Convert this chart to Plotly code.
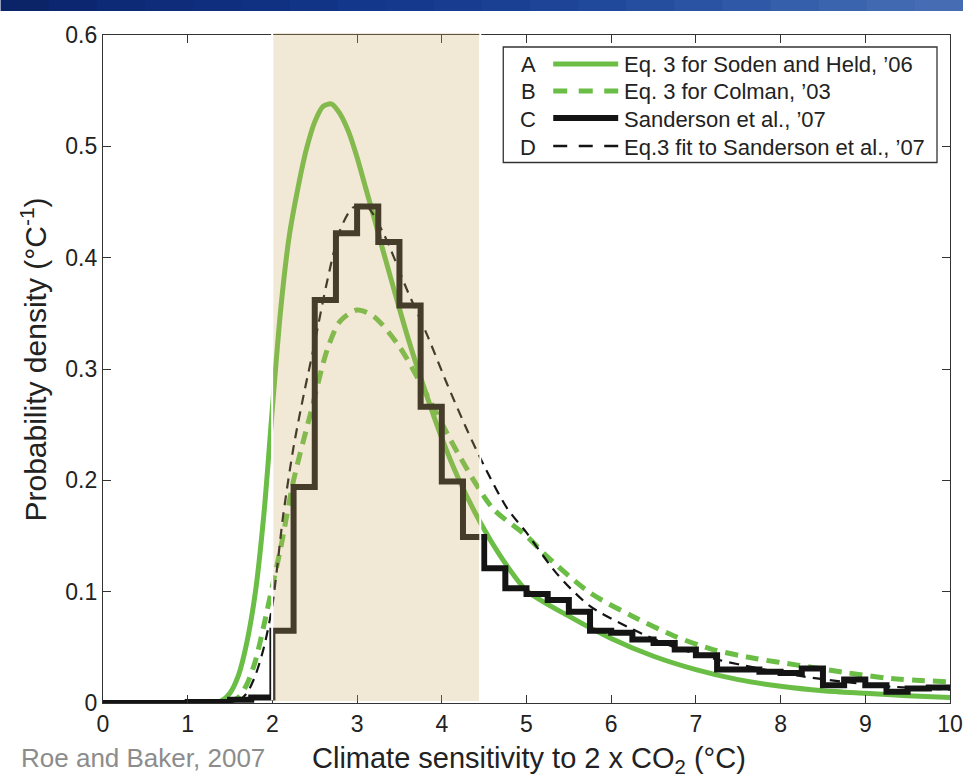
import plotly.graph_objects as go

# ---------------------------------------------------------------------------
# Probability densities of climate sensitivity (Roe and Baker, 2007)
# ---------------------------------------------------------------------------

# Eq. 3 for Soden and Held, '06  (solid green)
SH_X = [0.0, 1.3, 1.4, 1.5, 1.6, 1.7, 1.8, 1.9, 2.0, 2.1, 2.2, 2.3, 2.4, 2.5,
        2.6, 2.7, 2.8, 2.9, 3.0, 3.1, 3.2, 3.3, 3.4, 3.6, 3.8, 4.0, 4.2, 4.4,
        4.6, 4.8, 5.0, 5.5, 6.0, 6.5, 7.0, 7.5, 8.0, 8.5, 9.0, 9.5, 10.0]
SH_Y = [0.0, 0.0, 0.002, 0.009, 0.025, 0.055, 0.100, 0.170, 0.265, 0.355,
        0.420, 0.462, 0.497, 0.522, 0.536, 0.538, 0.529, 0.513, 0.490, 0.463,
        0.436, 0.408, 0.381, 0.328, 0.281, 0.238, 0.201, 0.170, 0.143, 0.120,
        0.101, 0.078, 0.058, 0.042, 0.030, 0.021, 0.015, 0.011, 0.0087,
        0.0066, 0.005]

# Eq. 3 for Colman, '03  (dashed green)
COL_X = [0.0, 1.4, 1.5, 1.6, 1.7, 1.8, 1.9, 2.0, 2.1, 2.25, 2.45, 2.65, 2.8,
         3.0, 3.2, 3.5, 3.8, 4.2, 4.6, 5.0, 5.25, 5.75, 6.25, 6.75, 7.2, 7.7,
         8.2, 8.8, 9.3, 10.0]
COL_Y = [0.0, 0.0, 0.001, 0.005, 0.017, 0.038, 0.070, 0.105, 0.140, 0.200,
         0.260, 0.318, 0.343, 0.353, 0.347, 0.320, 0.280, 0.223, 0.175, 0.150,
         0.131, 0.099, 0.078, 0.060, 0.048, 0.040, 0.034, 0.027, 0.022, 0.019]

# Sanderson et al., '07  (histogram, 0.25 degC bins)
SAND_EDGES = [0.0, 0.25, 0.5, 0.75, 1.0, 1.25, 1.5, 1.75, 2.0, 2.25, 2.5,
              2.75, 3.0, 3.25, 3.5, 3.75, 4.0, 4.25, 4.5, 4.75, 5.0, 5.25,
              5.5, 5.75, 6.0, 6.25, 6.5, 6.75, 7.0, 7.25, 7.5, 7.75, 8.0,
              8.25, 8.5, 8.75, 9.0, 9.25, 9.5, 9.75, 10.0]
SAND_DENS = [0.0, 0.0, 0.0, 0.0, 0.001, 0.001, 0.003, 0.005, 0.065, 0.194,
             0.362, 0.422, 0.446, 0.414, 0.357, 0.266, 0.199, 0.149, 0.121,
             0.103, 0.098, 0.0925, 0.082, 0.065, 0.063, 0.057, 0.054, 0.048,
             0.043, 0.030, 0.030, 0.028, 0.027, 0.031, 0.016, 0.021, 0.016,
             0.010, 0.013, 0.014]

# Eq.3 fit to Sanderson et al., '07  (thin dashed black)
FIT_X = [0.0, 1.5, 1.6, 1.7, 1.8, 1.9, 2.0, 2.13, 2.25, 2.37, 2.49, 2.65, 2.8,
         2.95, 3.1, 3.31, 3.59, 3.83, 4.06, 4.3, 4.5, 4.77, 5.0, 5.36, 5.75,
         6.26, 6.75, 7.25, 7.75, 8.25, 8.75, 9.25, 10.0]
FIT_Y = [0.0, 0.0, 0.002, 0.009, 0.025, 0.050, 0.088, 0.170, 0.230, 0.277,
         0.320, 0.380, 0.425, 0.445, 0.447, 0.422, 0.371, 0.330, 0.287, 0.245,
         0.213, 0.175, 0.153, 0.116, 0.087, 0.066, 0.050, 0.039, 0.031, 0.024,
         0.019, 0.015, 0.012]

LEGEND_KEYS = ["A", "B", "C", "D"]
LEGEND_LABELS = ["Eq. 3 for Soden and Held, \u201906",
                 "Eq. 3 for Colman, \u201903",
                 "Sanderson et al., \u201907",
                 "Eq.3 fit to Sanderson et al., \u201907"]

X_TICKS = [0, 1, 2, 3, 4, 5, 6, 7, 8, 9, 10]
Y_TICKS = [0, 0.1, 0.2, 0.3, 0.4, 0.5, 0.6]
Y_TICK_TEXT = ["0", "0.1", "0.2", "0.3", "0.4", "0.5", "0.6"]

# IPCC "likely" band shaded on the plot
LIKELY_LO, LIKELY_HI = 2.01, 4.44

# ---------------------------------------------------------------------------
GREEN = "#6abd45"
BLACK = "#141414"
FONT = "Liberation Sans, Arial, Helvetica, sans-serif"

W, H = 963, 777
ML, MR, MT, MB = 102.5, 13, 35, 74
PW, PH = W - ML - MR, H - MT - MB


def px(xp):
    """page x-pixel -> paper x"""
    return (xp - ML) / PW


def py(yp):
    """page y-pixel -> paper y"""
    return (H - MB - yp) / PH


fig = go.Figure()

fig.add_trace(go.Scatter(x=SH_X, y=SH_Y, mode="lines",
                         line=dict(color=GREEN, width=5, shape="spline",
                                   smoothing=0.8),
                         name=LEGEND_LABELS[0], showlegend=False))
fig.add_trace(go.Scatter(x=COL_X, y=COL_Y, mode="lines",
                         line=dict(color=GREEN, width=5, dash="13px,8px",
                                   shape="spline", smoothing=0.8),
                         name=LEGEND_LABELS[1], showlegend=False))
fig.add_trace(go.Scatter(x=SAND_EDGES, y=SAND_DENS + [SAND_DENS[-1]],
                         mode="lines",
                         line=dict(color=BLACK, width=6, shape="hv"),
                         name=LEGEND_LABELS[2], showlegend=False))
fig.add_trace(go.Scatter(x=FIT_X, y=FIT_Y, mode="lines",
                         line=dict(color=BLACK, width=2.2, dash="10px,7px",
                                   shape="spline", smoothing=0.8),
                         name=LEGEND_LABELS[3], showlegend=False))

shapes = []

# shaded likely range, tinted over the curves
shapes.append(dict(type="rect", xref="x", yref="paper",
                   x0=LIKELY_LO, x1=LIKELY_HI, y0=0.003, y1=py(33),
                   fillcolor="rgba(204,174,104,0.272)", line=dict(width=0),
                   layer="above"))
for xe in (1.997, 4.454):
    shapes.append(dict(type="line", xref="x", yref="paper",
                       x0=xe, x1=xe, y0=0.004, y1=py(33),
                       line=dict(color="white", width=2), layer="above"))

# blue banner across the top of the page
BANNER = ["#0b2468", "#0c276f", "#0d2a76", "#0e2c7a", "#0f2e7e", "#103182",
          "#123486", "#13378a", "#15398d", "#173c90", "#1a4093", "#1d4497",
          "#21499b", "#254e9f", "#2a53a3", "#2f58a7", "#355eab", "#3b64ae",
          "#4169b1", "#466db3"]
nb = len(BANNER)
for i, c in enumerate(BANNER):
    shapes.append(dict(type="rect", xref="paper", yref="paper",
                       x0=px(i * W / nb), x1=px((i + 1) * W / nb + 1),
                       y0=py(11), y1=py(0), fillcolor=c,
                       line=dict(width=0), layer="above"))

# legend box
shapes.append(dict(type="rect", xref="paper", yref="paper",
                   x0=px(503), x1=px(937), y0=py(162.5), y1=py(47),
                   fillcolor="white", line=dict(color="#333333", width=1.3),
                   layer="above"))
ROW_Y = [64, 91, 118, 146]
SAMPLE_STYLE = [dict(color=GREEN, width=5),
                dict(color=GREEN, width=5, dash="14px,11.5px"),
                dict(color=BLACK, width=6),
                dict(color=BLACK, width=2.4, dash="14px,11.5px")]
for ry, st in zip(ROW_Y, SAMPLE_STYLE):
    shapes.append(dict(type="line", xref="paper", yref="paper",
                       x0=px(553), x1=px(618), y0=py(ry), y1=py(ry),
                       line=st, layer="above"))

annotations = []
for key, label, ry in zip(LEGEND_KEYS, LEGEND_LABELS, ROW_Y):
    annotations.append(dict(xref="paper", yref="paper", x=px(528), y=py(ry + 1),
                            text=key, showarrow=False, xanchor="center",
                            yanchor="middle",
                            font=dict(family=FONT, size=22, color="#222222")))
    annotations.append(dict(xref="paper", yref="paper", x=px(622), y=py(ry + 1),
                            text=label, showarrow=False, xanchor="left",
                            yanchor="middle",
                            font=dict(family=FONT, size=22, color="#222222")))

annotations.append(dict(xref="paper", yref="paper", x=px(529), y=py(760),
                        text="Climate sensitivity to 2 x CO<sub>2</sub> (\u00b0C)",
                        showarrow=False, xanchor="center", yanchor="middle",
                        font=dict(family=FONT, size=29, color="#222222")))
annotations.append(dict(xref="paper", yref="paper", x=px(18), y=py(758),
                        text="Roe and Baker, 2007", showarrow=False,
                        xanchor="left", yanchor="middle",
                        font=dict(family=FONT, size=26, color="#8c8c8c")))
annotations.append(dict(xref="paper", yref="paper", x=px(33), y=py(360),
                        text="Probability density (\u00b0C<sup>-1</sup>)",
                        showarrow=False, textangle=-90, xanchor="center",
                        yanchor="middle",
                        font=dict(family=FONT, size=30, color="#222222")))

axis_common = dict(showline=True, linecolor="#333333", linewidth=1.4,
                   ticks="inside", ticklen=8, tickwidth=1.2,
                   tickcolor="#333333", mirror="ticks", showgrid=False,
                   zeroline=False, automargin=False,
                   tickfont=dict(family=FONT, size=23, color="#222222"))

fig.update_layout(
    width=W, height=H,
    margin=dict(l=ML, r=MR, t=MT, b=MB, pad=0, autoexpand=False),
    paper_bgcolor="white", plot_bgcolor="white",
    showlegend=False,
    xaxis=dict(range=[0, 10], tickvals=X_TICKS,
               ticktext=[str(v) for v in X_TICKS], **axis_common),
    yaxis=dict(range=[0, 0.6], tickvals=Y_TICKS, ticktext=Y_TICK_TEXT,
               **axis_common),
    shapes=shapes,
    annotations=annotations,
)

fig.write_html("out.html")
